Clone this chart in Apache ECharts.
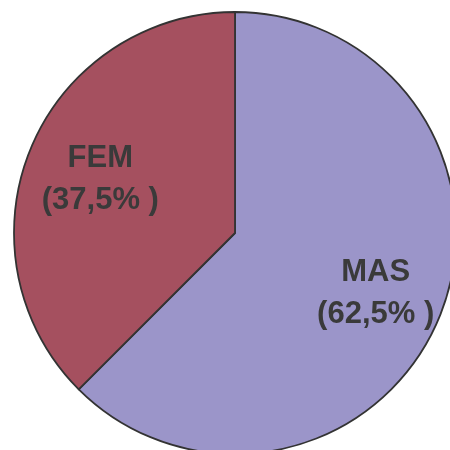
<!DOCTYPE html>
<html>
<head>
<meta charset="utf-8">
<script src="https://cdn.jsdelivr.net/npm/echarts@6/dist/echarts.min.js"></script>
<style>html,body{margin:0;padding:0;background:#fff}#c{width:450px;height:450px}</style>
</head>
<body>
<div id="c"></div>
<script>
const categories = ['MAS', 'FEM'];
const values = [62.5, 37.5];
const labelTexts = ['(62,5% )', '(37,5% )'];
const colors = ['#9B95C9', '#A5505F'];

const chart = echarts.init(document.getElementById('c'), null, {renderer: 'canvas'});
const data = categories.map((c, i) => ({name: c, value: values[i], itemStyle: {color: colors[i]}}));
const labelData = categories.map((c, i) => ({name: c, value: values[i]}));
chart.setOption({
  animation: false,
  series: [
    {
      type: 'pie',
      center: [235, 233],
      radius: 221,
      startAngle: 90,
      clockwise: true,
      silent: true,
      label: {show: false},
      labelLine: {show: false},
      itemStyle: {borderColor: '#333333', borderWidth: 1.8},
      data: data
    },
    {
      type: 'pie',
      center: [238, 236],
      radius: [122, 170],
      startAngle: 90,
      clockwise: true,
      silent: true,
      itemStyle: {color: 'rgba(0,0,0,0)', borderWidth: 0},
      label: {
        show: true,
        position: 'inside',
        formatter: function (p) { return p.name + '\n' + labelTexts[p.dataIndex]; },
        fontFamily: 'Liberation Sans, Arial, sans-serif',
        fontWeight: 'bold',
        fontSize: 31,
        lineHeight: 42,
        color: '#3A3A3A',
        align: 'center'
      },
      labelLine: {show: false},
      data: labelData
    }
  ]
});
</script>
</body>
</html>
